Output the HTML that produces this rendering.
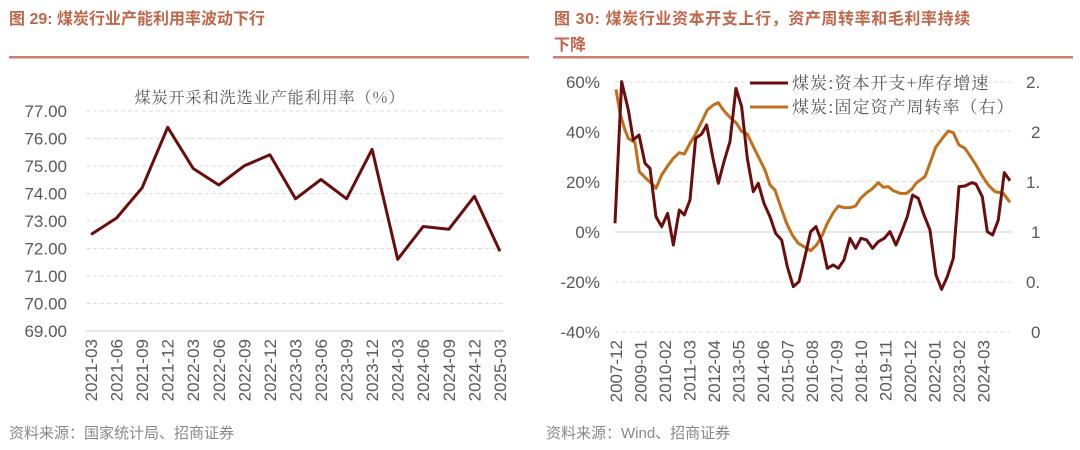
<!DOCTYPE html>
<html><head><meta charset="utf-8"><style>
body{margin:0;width:1080px;height:450px;background:#fff;overflow:hidden;font-family:"Liberation Sans","Noto Sans CJK SC",sans-serif;}
svg{position:absolute;left:0;top:0}
</style></head><body>
<svg width="1080" height="450" viewBox="0 0 1080 450" font-family="Liberation Sans, Noto Sans CJK SC, sans-serif">
<g fill="#c0674a" font-weight="bold" font-size="16">
<text x="9" y="24">图 29:  煤炭行业产能利用率波动下行</text>
<text x="554" y="24" letter-spacing="0.6">图 30:  煤炭行业资本开支上行，资产周转率和毛利率持续</text>
<text x="554" y="50">下降</text>
</g>
<rect x="9" y="56" width="520" height="2.5" fill="#c8806a"/>
<rect x="553" y="56" width="520" height="2.5" fill="#c8806a"/>
<!-- left chart -->
<g stroke="#ddd" stroke-dasharray="4,3" stroke-width="1">
<line x1="86" x2="503" y1="111" y2="111"/><line x1="86" x2="503" y1="138.5" y2="138.5"/><line x1="86" x2="503" y1="166" y2="166"/><line x1="86" x2="503" y1="193.5" y2="193.5"/><line x1="86" x2="503" y1="221" y2="221"/><line x1="86" x2="503" y1="248.5" y2="248.5"/><line x1="86" x2="503" y1="276" y2="276"/><line x1="86" x2="503" y1="303.5" y2="303.5"/>
</g>
<line x1="86" x2="503" y1="331" y2="331" stroke="#ccc"/>
<g fill="#595959" font-size="17" text-anchor="end">
<text x="67" y="117">77.00</text><text x="67" y="144.5">76.00</text><text x="67" y="172">75.00</text><text x="67" y="199.5">74.00</text><text x="67" y="227">73.00</text><text x="67" y="254.5">72.00</text><text x="67" y="282">71.00</text><text x="67" y="309.5">70.00</text><text x="67" y="337">69.00</text>
</g>
<text x="270" y="103" fill="#595959" font-size="16" letter-spacing="1" text-anchor="middle" font-family="Noto Serif CJK SC, serif">煤炭开采和洗选业产能利用率（%）</text>
<polyline fill="none" stroke="#6b0d0d" stroke-width="3" stroke-linejoin="round" points="91,234.5 116.6,218 142.1,187.8 167.7,127.3 193.2,168.5 218.8,185 244.3,165.8 269.9,154.8 295.5,198.8 321,179.5 346.6,198.8 372.1,149.3 397.7,259.3 423.2,226.5 448.8,229.3 474.4,196.3 499.9,251.3"/>
<g fill="#595959" font-size="17" text-anchor="end">
<text transform="translate(97,339) rotate(-90)">2021-03</text>
<text transform="translate(122.6,339) rotate(-90)">2021-06</text>
<text transform="translate(148.1,339) rotate(-90)">2021-09</text>
<text transform="translate(173.7,339) rotate(-90)">2021-12</text>
<text transform="translate(199.2,339) rotate(-90)">2022-03</text>
<text transform="translate(224.8,339) rotate(-90)">2022-06</text>
<text transform="translate(250.3,339) rotate(-90)">2022-09</text>
<text transform="translate(275.9,339) rotate(-90)">2022-12</text>
<text transform="translate(301.5,339) rotate(-90)">2023-03</text>
<text transform="translate(327,339) rotate(-90)">2023-06</text>
<text transform="translate(352.6,339) rotate(-90)">2023-09</text>
<text transform="translate(378.1,339) rotate(-90)">2023-12</text>
<text transform="translate(403.7,339) rotate(-90)">2024-03</text>
<text transform="translate(429.2,339) rotate(-90)">2024-06</text>
<text transform="translate(454.8,339) rotate(-90)">2024-09</text>
<text transform="translate(480.4,339) rotate(-90)">2024-12</text>
<text transform="translate(505.9,339) rotate(-90)">2025-03</text>
</g>
<text x="9" y="438" fill="#888" font-size="15">资料来源：国家统计局、招商证券</text>
<!-- right chart -->
<g stroke="#ddd" stroke-dasharray="4,3">
<line x1="615" x2="1012" y1="82" y2="82"/><line x1="615" x2="1012" y1="131" y2="131"/><line x1="615" x2="1012" y1="181.5" y2="181.5"/><line x1="615" x2="1012" y1="282" y2="282"/><line x1="615" x2="1012" y1="332" y2="332"/>
</g>
<line x1="615" x2="1012" y1="232" y2="232" stroke="#ccc"/>
<g fill="#595959" font-size="17" text-anchor="end">
<text x="600" y="88">60%</text><text x="600" y="138">40%</text><text x="600" y="188">20%</text><text x="600" y="238">0%</text><text x="600" y="288">-20%</text><text x="600" y="338">-40%</text>
</g>
<g fill="#595959" font-size="17">
<text x="1026" y="88">2.</text><text x="1031" y="138">2</text><text x="1026" y="188">1.</text><text x="1031" y="238">1</text><text x="1026" y="288">0.</text><text x="1031" y="338">0</text>
</g>
<g transform="translate(540,60) scale(0.3333)" fill="none" stroke-width="9" stroke-linejoin="round">
<polyline stroke="#c0701a" points="228,88 240,160 255,210 265,235 285,248 298,335 318,355 335,370 348,385 365,345 385,315 400,295 418,278 433,282 450,250 467,222 485,185 502,150 520,135 535,128 550,150 570,172 590,190 605,215 622,222 640,260 660,300 675,330 690,375 705,390 722,440 740,490 757,525 775,550 795,562 812,572 830,555 847,525 862,490 880,458 895,438 912,443 930,443 947,438 962,415 980,398 995,388 1015,368 1030,382 1045,380 1060,392 1080,400 1100,400 1115,388 1130,368 1155,350 1170,310 1187,262 1205,238 1225,213 1240,218 1257,255 1275,265 1292,290 1310,318 1325,345 1345,375 1365,395 1390,400 1410,427"/>
<polyline stroke="#6b0d0d" points="225,490 245,65 265,150 280,240 297,225 315,310 330,325 348,470 365,500 383,460 400,555 418,450 433,465 450,420 467,235 485,222 500,195 518,290 535,370 552,305 570,245 588,85 605,140 622,295 640,395 655,370 672,430 690,470 707,520 725,540 742,620 760,680 777,665 795,590 812,515 828,500 845,545 862,625 880,615 895,625 912,600 930,535 947,565 963,535 980,540 998,565 1015,545 1033,535 1050,515 1068,555 1085,515 1102,470 1118,405 1135,415 1152,465 1170,510 1188,645 1205,688 1222,650 1240,595 1257,380 1275,378 1295,368 1308,372 1327,410 1342,515 1358,525 1375,480 1393,338 1410,362"/>
</g>
<line x1="750" x2="788" y1="83" y2="83" stroke="#6b0d0d" stroke-width="3"/>
<line x1="750" x2="788" y1="107" y2="107" stroke="#c0701a" stroke-width="3"/>
<g fill="#595959" font-size="17" letter-spacing="1" font-family="Noto Serif CJK SC, serif">
<text x="792" y="89">煤炭:资本开支+库存增速</text>
<text x="792" y="113">煤炭:固定资产周转率（右）</text>
</g>
<g fill="#595959" font-size="17" text-anchor="end">
<text transform="translate(622,340) rotate(-90)">2007-12</text>
<text transform="translate(646.5,340) rotate(-90)">2009-01</text>
<text transform="translate(671,340) rotate(-90)">2010-02</text>
<text transform="translate(695.5,340) rotate(-90)">2011-03</text>
<text transform="translate(720,340) rotate(-90)">2012-04</text>
<text transform="translate(744.5,340) rotate(-90)">2013-05</text>
<text transform="translate(769,340) rotate(-90)">2014-06</text>
<text transform="translate(793.5,340) rotate(-90)">2015-07</text>
<text transform="translate(818,340) rotate(-90)">2016-08</text>
<text transform="translate(842.5,340) rotate(-90)">2017-09</text>
<text transform="translate(867,340) rotate(-90)">2018-10</text>
<text transform="translate(891.5,340) rotate(-90)">2019-11</text>
<text transform="translate(916,340) rotate(-90)">2020-12</text>
<text transform="translate(940.5,340) rotate(-90)">2022-01</text>
<text transform="translate(965,340) rotate(-90)">2023-02</text>
<text transform="translate(989.5,340) rotate(-90)">2024-03</text>
</g>
<text x="546" y="438" fill="#888" font-size="15">资料来源：Wind、招商证券</text>
</svg>
</body></html>
